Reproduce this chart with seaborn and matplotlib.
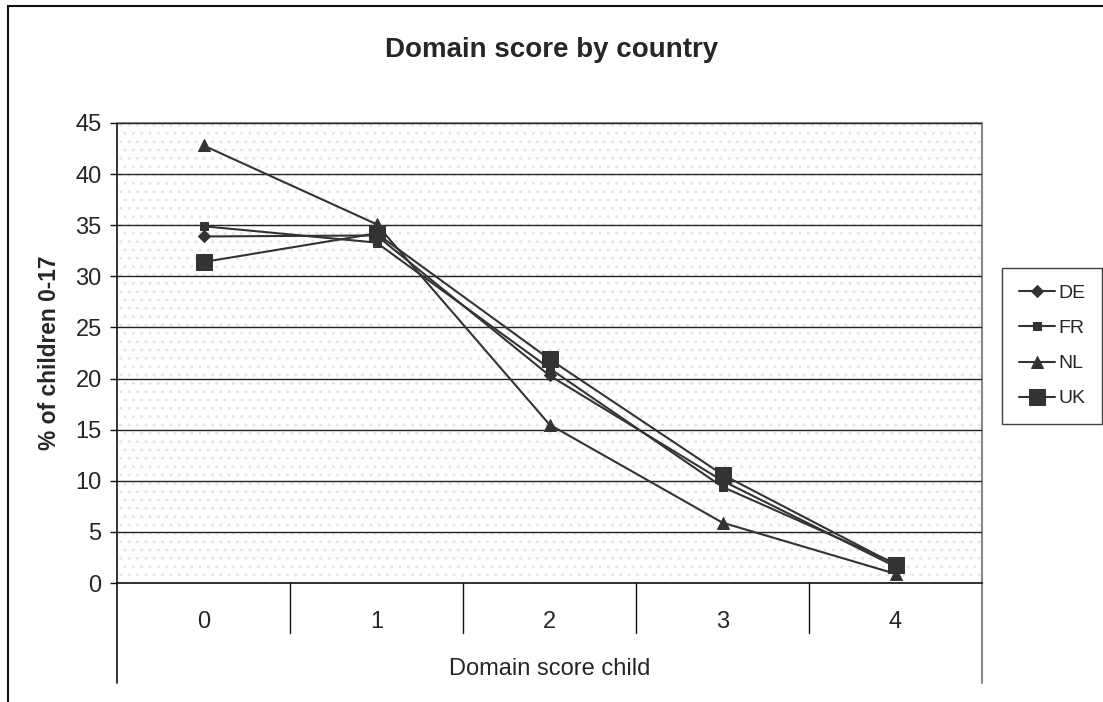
import matplotlib
matplotlib.use('Agg')
import matplotlib.pyplot as plt
import matplotlib.transforms as mtransforms
from matplotlib.lines import Line2D
from matplotlib.patches import Rectangle
import seaborn as sns
import pandas as pd

# Datos
scores = [0, 1, 2, 3, 4]
countries = ['DE', 'FR', 'NL', 'UK']
de_vals = [33.9, 34.0, 20.3, 10.0, 1.6]
fr_vals = [34.9, 33.3, 21.0, 9.4, 1.9]
nl_vals = [42.8, 35.1, 15.5, 5.9, 0.9]
uk_vals = [31.4, 34.2, 21.9, 10.6, 1.8]

df = pd.DataFrame({
    'score': scores * 4,
    'country': [c for c in countries for _ in scores],
    'pct': de_vals + fr_vals + nl_vals + uk_vals,
})

sns.set_style('white')
plt.rcParams['font.family'] = ['Liberation Sans', 'DejaVu Sans']

ink = '#333333'
markers = {'DE': ('D', 6.5), 'FR': ('s', 5.8), 'NL': ('^', 8.5), 'UK': ('s', 11.5)}

fig = plt.figure(figsize=(11.03, 7.02), dpi=100)
ax = fig.add_axes([117 / 1103, 1 - 583 / 702, 865 / 1103, 460 / 702])

# Fondo punteado
bg = Rectangle((0, 0), 1, 1, transform=ax.transAxes, facecolor='white',
               edgecolor='#e6e6e6', hatch='..', linewidth=0, zorder=0)
ax.add_patch(bg)

for c in countries:
    sub = df[df['country'] == c]
    m, ms = markers[c]
    sns.lineplot(data=sub, x='score', y='pct', color=ink, marker=m, markersize=ms,
                 markeredgecolor=ink, linewidth=1.5, label=c, ax=ax, zorder=3)

ax.set_xlim(-0.5, 4.5)
ax.set_ylim(0, 45)
ax.set_yticks(range(0, 50, 5))
ax.yaxis.grid(True, color='#222222', linewidth=1.0)
ax.set_axisbelow(False)
for gl in ax.get_ygridlines():
    gl.set_zorder(1)

for side in ['top', 'right']:
    ax.spines[side].set_color('#888888')
    ax.spines[side].set_linewidth(1.5)
for side in ['left', 'bottom']:
    ax.spines[side].set_color('#111111')
    ax.spines[side].set_linewidth(1.2)

ax.tick_params(axis='y', which='both', left=True, length=5, width=1, color='#111111',
               labelsize=17, pad=6)
ax.set_xticks(scores)
ax.set_xticklabels([str(s) for s in scores])
ax.tick_params(axis='x', length=0, labelsize=17, pad=20)

# Separadores de categorias (estilo Excel)
trans = mtransforms.blended_transform_factory(ax.transData, ax.transAxes)
for b in [0.5, 1.5, 2.5, 3.5]:
    ax.add_line(Line2D([b, b], [0, -50 / 460], transform=trans, color='#111111',
                       linewidth=1, clip_on=False))
ax.add_line(Line2D([-0.5, -0.5], [0, -100 / 460], transform=trans, color='#111111',
                   linewidth=1.2, clip_on=False))
ax.add_line(Line2D([4.5, 4.5], [0, -100 / 460], transform=trans, color='#888888',
                   linewidth=1.5, clip_on=False))

ax.set_xlabel('Domain score child', fontsize=17)
ax.xaxis.set_label_coords(0.5, -0.163)
ax.set_ylabel('% of children 0-17', fontsize=16.4, fontweight='bold')
ax.yaxis.set_label_coords(-0.065, 0.5)

ax.get_legend().remove()
handles, labels = ax.get_legend_handles_labels()
leg = fig.legend(handles, labels, loc='upper left',
                 bbox_to_anchor=(1002 / 1103, 1 - 268 / 702), borderaxespad=0,
                 fontsize=14, frameon=True, fancybox=False, handlelength=1.85,
                 handletextpad=0.2, labelspacing=0.9, borderpad=0.85)
leg.get_frame().set_edgecolor('#111111')
leg.get_frame().set_linewidth(1.0)

fig.text(0.5, 1 - 50 / 702, 'Domain score by country', ha='center', va='center',
         fontsize=20, fontweight='bold')

# Marco exterior del grafico
fig.add_artist(Line2D([8 / 1103, 8 / 1103], [0, 1 - 6 / 702], transform=fig.transFigure,
                      color='#111111', linewidth=1.5))
fig.add_artist(Line2D([8 / 1103, 1], [1 - 6 / 702, 1 - 6 / 702], transform=fig.transFigure,
                      color='#111111', linewidth=1.5))

plt.savefig('out.png', dpi=100)
plt.close()
